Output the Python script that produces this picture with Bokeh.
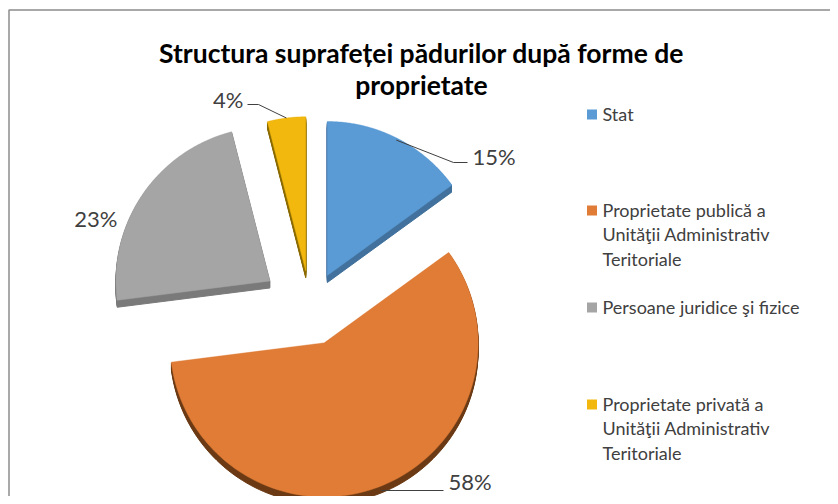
import numpy as np
from bokeh.plotting import figure
from bokeh.models import Range1d
from bokeh.core.properties import value
from bokeh.embed import file_html
from bokeh.resources import INLINE

# ---- data ----
categories = ["Stat",
              "Proprietate publică a\nUnităţii Administrativ\nTeritoriale",
              "Persoane juridice şi fizice",
              "Proprietate privată a\nUnităţii Administrativ\nTeritoriale"]
shares = [15, 58, 23, 4]
title_text = "Structura suprafeței pădurilor după forme de\nproprietate"

# ---- styles ----
top_colors = ["#5B9BD5", "#E07C36", "#A5A5A5", "#F2B80E"]
side_colors = ["#41719C", "#6B3A14", "#7A7A7A", "#8A6A00"]
explode = [37, 37, 49, 38]
FONT = "Lato"

W, H = 830, 496
p = figure(width=W, height=H, output_backend="svg", toolbar_location=None,
           x_range=Range1d(0, W), y_range=Range1d(0, H), min_border=0,
           background_fill_color="white", border_fill_color="white")
p.axis.visible = False
p.grid.visible = False
p.outline_line_color = None

def px(X):  # picture x -> data
    return X
def py(Y):  # picture y -> data
    return H - Y

# chart area border (left & top)
p.line([px(8.5), px(8.5), px(840)], [py(505), py(9.5), py(9.5)], line_color="#8C8C8C", line_width=1.5)

# title (one glyph per line)
for k, line in enumerate(title_text.split("\n")):
    p.text(x=[px(421)], y=[py(52 + 32 * k)], text=[line], text_font=value(FONT), text_font_style="bold",
           text_font_size="26.5px", text_align="center", text_baseline="middle", text_color="#000000")

cx, cy, r, depth = px(310), py(308), 154, 7
total = float(sum(shares))
cum = np.concatenate([[0], np.cumsum(shares)]) / total * 2 * np.pi

verts, mids = [], []
for i in range(len(shares)):
    a0, a1 = cum[i], cum[i + 1]
    mid = (a0 + a1) / 2
    vx = cx + explode[i] * np.sin(mid)
    vy = cy + explode[i] * np.cos(mid)
    t = np.linspace(a0, a1, 120)
    xs = np.concatenate([[vx], vx + r * np.sin(t)])
    ys = np.concatenate([[vy], vy + r * np.cos(t)])
    verts.append((xs, ys))
    mids.append((vx, vy, mid))

# sides first (shifted down), then top faces
for i, (xs, ys) in enumerate(verts):
    for k in range(1, depth + 1):
        p.patch(xs, ys - k, fill_color=side_colors[i], line_color=side_colors[i], line_width=1)
for i, (xs, ys) in enumerate(verts):
    p.patch(xs, ys, fill_color=top_colors[i], line_color=top_colors[i], line_width=0.5)

labels = ["%d%%" % round(v / total * 100) for v in shares]
# label layout (picture coordinates) and alignments
lab_pos = [(472, 156, "left"), (448, 481, "left"), (117, 218, "right"), (243, 99, "right")]
for i, (X, Y, al) in enumerate(lab_pos):
    p.text(x=[px(X)], y=[py(Y)], text=[labels[i]], text_font=value(FONT), text_font_size="22px",
           text_align=al, text_baseline="middle", text_color="#404040")

def arcpt(i, extra=0.0, down=0):
    vx, vy, mid = mids[i]
    return vx + (r + extra) * np.sin(mid), vy + (r + extra) * np.cos(mid) - down

# leader lines
bx, by = arcpt(0, -2)
p.line([bx, px(453), px(467)], [by, py(162), py(162)], line_color="#404040", line_width=1)
ox, oy = arcpt(1, 0, depth)
p.line([ox, px(443)], [py(490), py(490)], line_color="#404040", line_width=1)
yx, yy = arcpt(3, 0)
p.line([px(247), px(258), yx], [py(104), py(104), yy], line_color="#404040", line_width=1)

# legend
leg_y = [113, 209, 306, 403]
for i, Y in enumerate(leg_y):
    p.rect(x=[px(591.5)], y=[py(Y + 1)], width=10, height=10, fill_color=top_colors[i], line_color=None)
    for k, line in enumerate(categories[i].split("\n")):
        p.text(x=[px(602)], y=[py(Y + 24.5 * k)], text=[line], text_font=value(FONT), text_font_size="18px",
               text_align="left", text_baseline="middle", text_color="#404040")

open("out.html", "w").write(file_html(p, INLINE))
